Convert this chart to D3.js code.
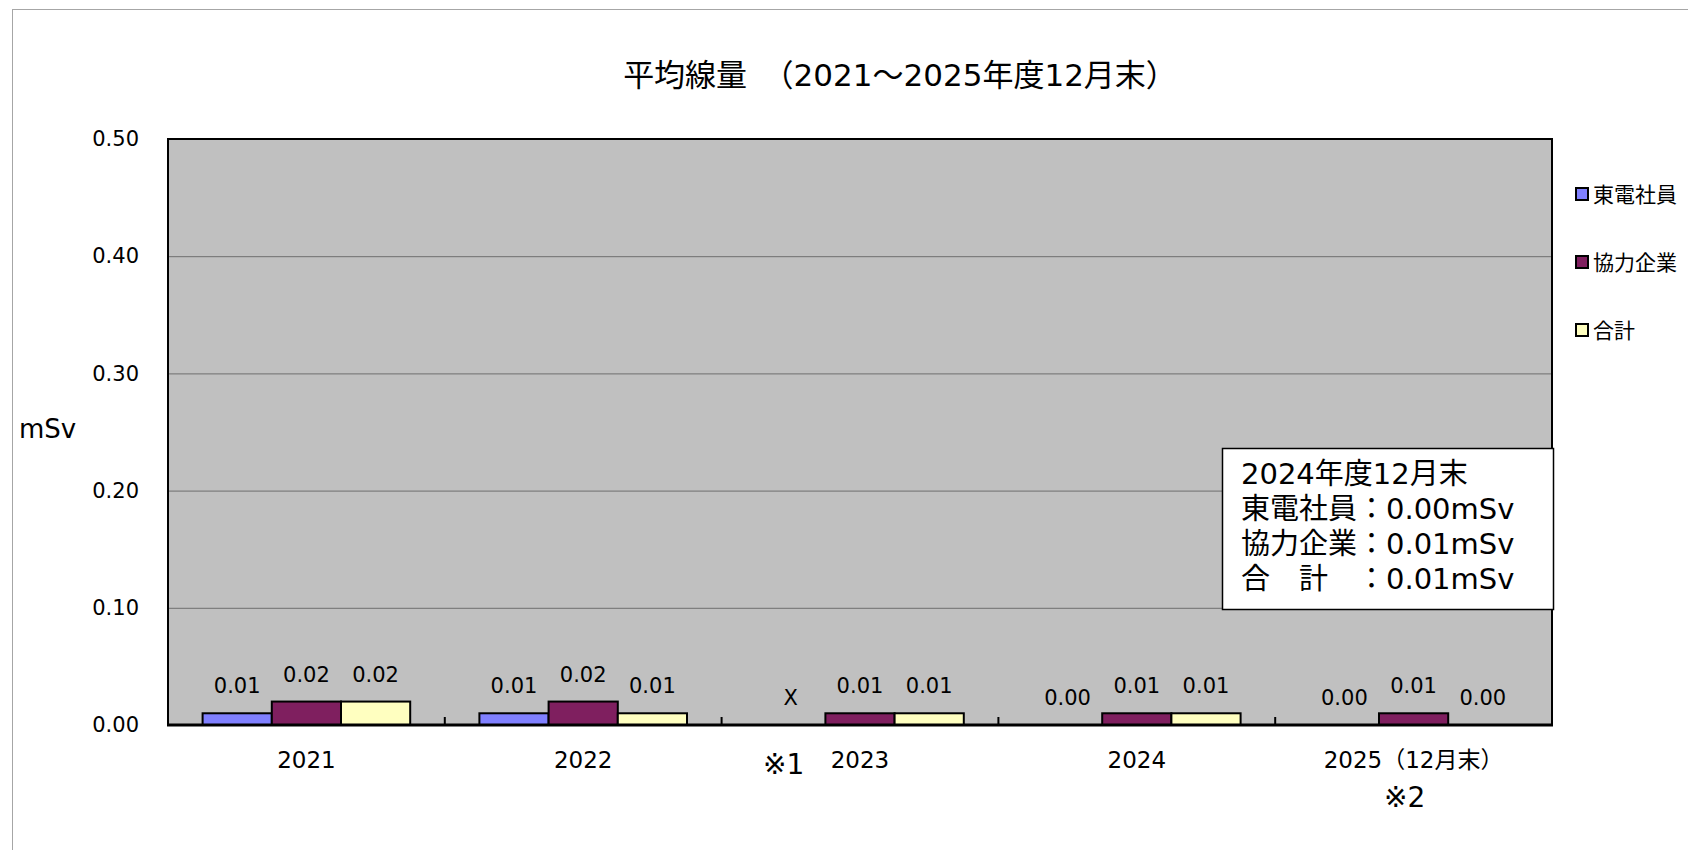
<!DOCTYPE html>
<html>
<head>
<meta charset="utf-8">
<script src="https://cdn.jsdelivr.net/npm/d3@7"></script>
<style>
  body { margin: 0; background: #fff; }
  svg text { font-family: "DejaVu Sans", "Noto Sans CJK JP", sans-serif; fill: #000; }
</style>
</head>
<body>
<div class="chart"></div>
<script>
// data
const categories = ["2021", "2022", "2023", "2024", "2025（12月末）"];
const seriesNames = ["東電社員", "協力企業", "合計"];
const seriesColors = ["#8080ff", "#7f1f5f", "#ffffc0"];
const tepco = [0.01, 0.01, null, 0.00, 0.00];
const partner = [0.02, 0.02, 0.01, 0.01, 0.01];
const total = [0.02, 0.01, 0.01, 0.01, 0.00];
const yTicks = [0, 0.1, 0.2, 0.3, 0.4, 0.5];
const notes = [{ cat: "2023", text: "※1" }, { cat: "2025（12月末）", text: "※2" }];
const boxTitle = "2024年度12月末";
const boxYear = "2024";

const W = 1688, H = 850;
const m = { left: 168, right: 1552, top: 139, bottom: 725 };

const svg = d3.select(".chart")
    .append("svg")
    .attr("width", W)
    .attr("height", H);

// outer chart border (runs off the picture)
svg.append("rect")
    .attr("x", 12.5).attr("y", 9.5)
    .attr("width", 1800).attr("height", 1000)
    .attr("fill", "#fff")
    .attr("stroke", "#a6a6a6")
    .attr("stroke-width", 1);

svg.append("text")
    .attr("x", 900).attr("y", 86)
    .attr("text-anchor", "middle")
    .attr("font-size", "31px")
    .text("平均線量　（2021～2025年度12月末）");

const x = d3.scaleBand()
    .domain(categories)
    .range([m.left, m.right]);

const xs = d3.scaleBand()
    .domain(seriesNames)
    .range([0, x.bandwidth()])
    .paddingOuter(0.5)
    .paddingInner(0);

const y = d3.scaleLinear()
    .domain([0, 0.5])
    .range([m.bottom, m.top]);

// plot background
svg.append("rect")
    .attr("x", m.left).attr("y", m.top)
    .attr("width", m.right - m.left)
    .attr("height", m.bottom - m.top)
    .attr("fill", "#c0c0c0");

// grid lines
svg.append("g")
    .selectAll("line")
    .data(yTicks.filter(d => d > 0 && d < 0.5))
    .join("line")
    .attr("x1", m.left).attr("x2", m.right)
    .attr("y1", d => y(d) + 0.5).attr("y2", d => y(d) + 0.5)
    .attr("stroke", "#6e6e6e")
    .attr("stroke-width", 1);

// y axis labels
const yAxis = svg.append("g")
    .attr("transform", `translate(${m.left},0)`)
    .call(d3.axisLeft(y).tickValues(yTicks).tickFormat(d3.format(".2f")).tickSize(0).tickPadding(29));
yAxis.select(".domain").remove();
yAxis.selectAll("text")
    .attr("font-size", "21px")
    .attr("font-family", null)
    .attr("fill", "#000");

svg.append("text")
    .attr("x", 19).attr("y", 438)
    .attr("font-size", "26px")
    .text("mSv");

// bars
const rows = categories.map((c, i) => ({
    cat: c,
    vals: [tepco[i], partner[i], total[i]]
}));

const groups = svg.append("g")
    .selectAll("g")
    .data(rows)
    .join("g")
    .attr("transform", d => `translate(${x(d.cat)},0)`);

groups.selectAll("rect")
    .data(d => d.vals.map((v, j) => ({ v, name: seriesNames[j], color: seriesColors[j] })))
    .join("rect")
    .filter(d => d.v !== null && d.v > 0)
    .attr("x", d => xs(d.name))
    .attr("y", d => y(d.v))
    .attr("width", xs.bandwidth())
    .attr("height", d => y(0) - y(d.v))
    .attr("fill", d => d.color)
    .attr("stroke", "#000")
    .attr("stroke-width", 2);

groups.selectAll("text.val")
    .data(d => d.vals.map((v, j) => ({ v, name: seriesNames[j] })))
    .join("text")
    .attr("class", "val")
    .attr("x", d => xs(d.name) + xs.bandwidth() / 2)
    .attr("y", d => y(d.v === null ? 0 : d.v) - 20)
    .attr("text-anchor", "middle")
    .attr("font-size", "21px")
    .text(d => d.v === null ? "X" : d3.format(".2f")(d.v));

// plot frame
svg.append("rect")
    .attr("x", m.left).attr("y", m.top)
    .attr("width", m.right - m.left)
    .attr("height", m.bottom - m.top)
    .attr("fill", "none")
    .attr("stroke", "#000")
    .attr("stroke-width", 2);

// x axis line + inner ticks
svg.append("line")
    .attr("x1", m.left - 1).attr("x2", m.right + 1)
    .attr("y1", m.bottom).attr("y2", m.bottom)
    .attr("stroke", "#000")
    .attr("stroke-width", 3);

svg.append("g")
    .selectAll("line")
    .data(categories.slice(1))
    .join("line")
    .attr("x1", d => x(d)).attr("x2", d => x(d))
    .attr("y1", m.bottom).attr("y2", m.bottom - 8)
    .attr("stroke", "#000")
    .attr("stroke-width", 2);

svg.append("g")
    .selectAll("text")
    .data(categories)
    .join("text")
    .attr("x", d => x(d) + x.bandwidth() / 2)
    .attr("y", 768)
    .attr("text-anchor", "middle")
    .attr("font-size", "23px")
    .text(d => d);

// footnote marks
svg.append("g")
    .selectAll("text")
    .data(notes)
    .join("text")
    .attr("x", d => d.text === "※1" ? x(d.cat) + 62 : x(d.cat) + x.bandwidth() / 2 - 9)
    .attr("y", d => d.text === "※1" ? 774 : 807)
    .attr("text-anchor", "middle")
    .attr("font-size", "28px")
    .text(d => d.text);

// legend
const legend = svg.append("g")
    .selectAll("g")
    .data(seriesNames)
    .join("g")
    .attr("transform", (d, i) => `translate(1576,${194 + i * 68})`);

legend.append("rect")
    .attr("x", 0).attr("y", -6)
    .attr("width", 12).attr("height", 12)
    .attr("fill", (d, i) => seriesColors[i])
    .attr("stroke", "#000")
    .attr("stroke-width", 2);

legend.append("text")
    .attr("x", 17).attr("y", 8)
    .attr("font-size", "21px")
    .text(d => d);

// annotation box for latest full year
const yi = categories.indexOf(boxYear);
const boxLines = [
    boxTitle,
    "東電社員：" + d3.format(".2f")(tepco[yi]) + "mSv",
    "協力企業：" + d3.format(".2f")(partner[yi]) + "mSv",
    "合　計　：" + d3.format(".2f")(total[yi]) + "mSv"
];

svg.append("rect")
    .attr("x", 1222.5).attr("y", 448.5)
    .attr("width", 331).attr("height", 161)
    .attr("fill", "#fff")
    .attr("stroke", "#000")
    .attr("stroke-width", 1.5);

svg.append("g")
    .selectAll("text")
    .data(boxLines)
    .join("text")
    .attr("x", 1241)
    .attr("y", (d, i) => 484 + i * 35)
    .attr("font-size", "29px")
    .text(d => d);
</script>
</body>
</html>
